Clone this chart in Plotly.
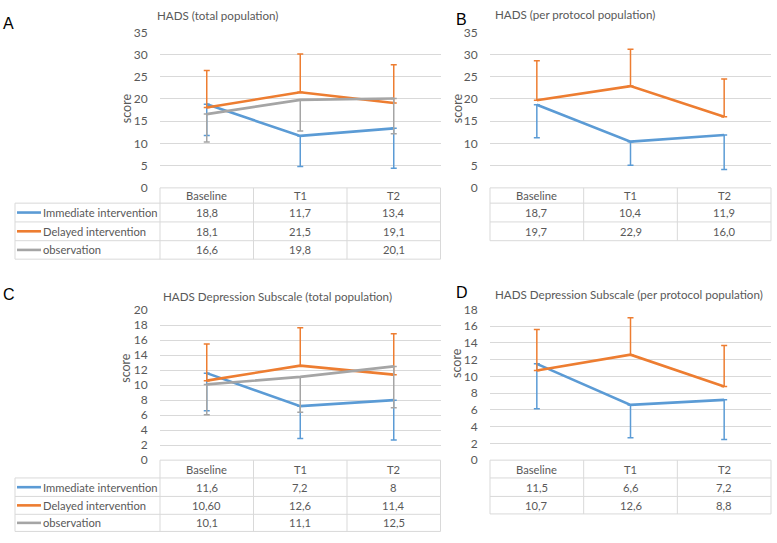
import plotly.graph_objects as go

W, H = 777, 543

categories = ["Baseline", "T1", "T2"]
series_names = ["Immediate intervention", "Delayed intervention", "observation"]
colors = ["#5B9BD5", "#ED7D31", "#A5A5A5"]

# Panel A: HADS (total population)
a_immediate = ["18,8", "11,7", "13,4"]
a_delayed = ["18,1", "21,5", "19,1"]
a_observation = ["16,6", "19,8", "20,1"]
a_imm_err_minus = [7.0, 6.9, 9.0]
a_del_err_plus = [8.3, 8.6, 8.6]
a_obs_err_minus = [6.3, 7.0, 7.9]

# Panel B: HADS (per protocol population)
b_immediate = ["18,7", "10,4", "11,9"]
b_delayed = ["19,7", "22,9", "16,0"]
b_imm_err_minus = [7.4, 5.3, 7.75]
b_del_err_plus = [8.9, 8.3, 8.5]

# Panel C: HADS Depression Subscale (total population)
c_immediate = ["11,6", "7,2", "8"]
c_delayed = ["10,60", "12,6", "11,4"]
c_observation = ["10,1", "11,1", "12,5"]
c_imm_err_minus = [5.0, 4.3, 5.3]
c_del_err_plus = [4.9, 5.05, 5.45]
c_obs_err_minus = [4.05, 4.7, 5.5]

# Panel D: HADS Depression Subscale (per protocol population)
d_immediate = ["11,5", "6,6", "7,2"]
d_delayed = ["10,7", "12,6", "8,8"]
d_imm_err_minus = [5.35, 3.93, 4.73]
d_del_err_plus = [4.9, 4.4, 4.9]

TXT = "#595959"
GRID = "#d9d9d9"
FONT = "Lato"


def num(s):
    return float(s.replace(",", "."))


def px(x):
    return x / W


def py(y):
    return 1 - y / H


panels = [
    dict(title="HADS (total population)", letter="A", letter_xy=(2, 16), title_xy=(155, 8),
         score_xy=(126, 103), box=(160, 440.5, 25, 185), ymax=35, dtick=5,
         rows=[185, 200.7, 220, 239.3, 258.3], legend=True,
         series=[(0, a_immediate, None, a_imm_err_minus),
                 (1, a_delayed, a_del_err_plus, None),
                 (2, a_observation, None, a_obs_err_minus)]),
    dict(title="HADS (per protocol population)", letter="B", letter_xy=(455, 12), title_xy=(493, 7),
         score_xy=(457, 103), box=(490, 771, 25, 185), ymax=35, dtick=5,
         rows=[185, 200.7, 220, 239.3], legend=False,
         series=[(0, b_immediate, None, b_imm_err_minus),
                 (1, b_delayed, b_del_err_plus, None)]),
    dict(title="HADS Depression Subscale (total population)", letter="C", letter_xy=(2, 295), title_xy=(161, 297),
         score_xy=(126, 370), box=(160, 440.5, 310.7, 465), ymax=20, dtick=2,
         rows=[465, 483.3, 502.3, 520.7, 538.3], legend=True,
         series=[(0, c_immediate, None, c_imm_err_minus),
                 (1, c_delayed, c_del_err_plus, None),
                 (2, c_observation, None, c_obs_err_minus)]),
    dict(title="HADS Depression Subscale (per protocol population)", letter="D", letter_xy=(455, 293), title_xy=(493, 295),
         score_xy=(457, 365), box=(490, 771, 310, 465), ymax=18, dtick=2,
         rows=[465, 483.3, 502.3, 520.3], legend=False,
         series=[(0, d_immediate, None, d_imm_err_minus),
                 (1, d_delayed, d_del_err_plus, None)]),
]

fig = go.Figure()
layout = dict(width=W, height=H, margin=dict(l=0, r=0, t=0, b=0),
              paper_bgcolor="white", plot_bgcolor="white", showlegend=False)
shapes = []
annotations = []

for k, p in enumerate(panels, start=1):
    sfx = "" if k == 1 else str(k)
    xa, ya = "x" + sfx, "y" + sfx
    l, r, t, b = p["box"]

    for si, vals, plus, minus in p["series"]:
        y = [num(s) for s in vals]
        n = len(y)
        err = dict(type="data", symmetric=False,
                   array=plus if plus is not None else [0] * n,
                   arrayminus=minus if minus is not None else [0] * n,
                   color=colors[si], thickness=1.5, width=3)
        fig.add_trace(go.Scatter(x=categories, y=y, mode="lines",
                                 line=dict(color=colors[si], width=2.6),
                                 error_y=err, xaxis=xa, yaxis=ya,
                                 hoverinfo="skip", name=series_names[si]))

    layout["xaxis" + sfx] = dict(domain=[px(l), px(r)], range=[-0.5, 2.5], type="category",
                                 showticklabels=False, showgrid=False, zeroline=False,
                                 showline=False, anchor=ya, fixedrange=True)
    layout["yaxis" + sfx] = dict(domain=[py(b), py(t)], range=[0, p["ymax"]], dtick=p["dtick"],
                                 showgrid=True, gridcolor=GRID, gridwidth=1, zeroline=False,
                                 showline=False, anchor=xa, ticks="outside", ticklen=9,
                                 tickcolor="rgba(0,0,0,0)",
                                 tickfont=dict(family=FONT, size=12, color=TXT), fixedrange=True)

    annotations.append(dict(text=p["title"], xref="paper", yref="paper", x=px(p["title_xy"][0]),
                            y=py(p["title_xy"][1]), xanchor="left", yanchor="middle", showarrow=False,
                            font=dict(family=FONT, size=11.6, color=TXT)))
    annotations.append(dict(text=p["letter"], xref="paper", yref="paper", x=px(p["letter_xy"][0]),
                            y=py(p["letter_xy"][1]), xanchor="left", yanchor="middle", showarrow=False,
                            borderpad=0, font=dict(family="Liberation Sans", size=16, color="black")))
    annotations.append(dict(text="score", xref="paper", yref="paper", x=px(p["score_xy"][0]),
                            y=py(p["score_xy"][1]), xanchor="center", yanchor="middle", showarrow=False,
                            textangle=-90, font=dict(family=FONT, size=12.5, color=TXT)))

    rows = p["rows"]
    ncol = len(categories)
    colw = (r - l) / ncol
    left_edge = 15 if p["legend"] else l
    line = dict(color=GRID, width=1)
    for i, yy in enumerate(rows):
        x0 = l if i == 0 else left_edge
        shapes.append(dict(type="line", xref="paper", yref="paper", x0=px(x0), x1=px(r),
                           y0=py(yy), y1=py(yy), line=line))
    for c in range(ncol + 1):
        xx = l + c * colw
        shapes.append(dict(type="line", xref="paper", yref="paper", x0=px(xx), x1=px(xx),
                           y0=py(rows[0]), y1=py(rows[-1]), line=line))
    if p["legend"]:
        shapes.append(dict(type="line", xref="paper", yref="paper", x0=px(left_edge), x1=px(left_edge),
                           y0=py(rows[1]), y1=py(rows[-1]), line=line))
    hy = (rows[0] + rows[1]) / 2
    for ci, cat in enumerate(categories):
        annotations.append(dict(text=cat, xref=xa, yref="paper", x=ci, y=py(hy),
                                xanchor="center", yanchor="middle", showarrow=False,
                                font=dict(family=FONT, size=11.2, color=TXT)))
    for ri, (si, vals, plus, minus) in enumerate(p["series"]):
        cy = (rows[ri + 1] + rows[ri + 2]) / 2
        for ci, s in enumerate(vals):
            annotations.append(dict(text=s, xref=xa, yref="paper", x=ci, y=py(cy),
                                    xanchor="center", yanchor="middle", showarrow=False,
                                    font=dict(family=FONT, size=11.2, color=TXT)))
        if p["legend"]:
            shapes.append(dict(type="line", xref="paper", yref="paper", x0=px(17), x1=px(41),
                               y0=py(cy), y1=py(cy), line=dict(color=colors[si], width=2.6)))
            annotations.append(dict(text=series_names[si], xref="paper", yref="paper", x=px(41),
                                    y=py(cy), xanchor="left", yanchor="middle", showarrow=False,
                                    font=dict(family=FONT, size=11.2, color=TXT)))

layout["shapes"] = shapes
layout["annotations"] = annotations
fig.update_layout(**layout)
fig.write_html("out.html", config={"displayModeBar": False})
